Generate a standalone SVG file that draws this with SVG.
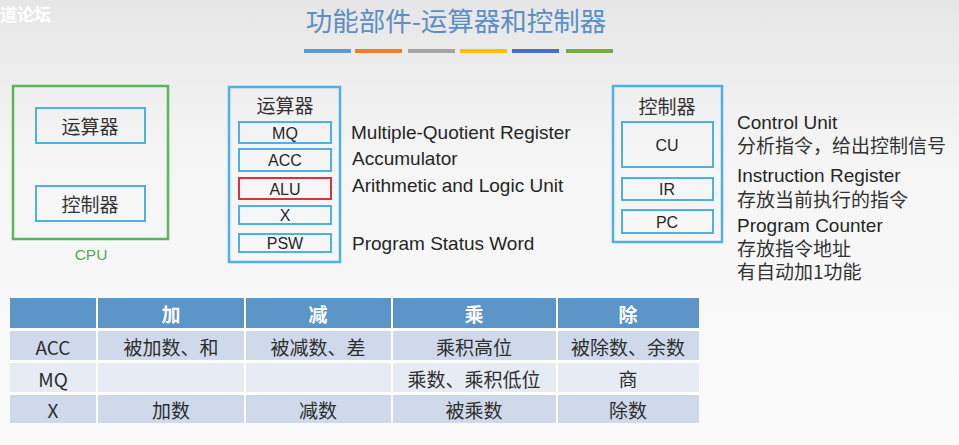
<svg xmlns="http://www.w3.org/2000/svg" width="959" height="445" viewBox="0 0 959 445">
  <defs>
    <linearGradient id="bg" x1="0" y1="0" x2="0" y2="1">
      <stop offset="0" stop-color="#e6e6e6"/>
      <stop offset="0.35" stop-color="#f5f5f5"/>
      <stop offset="1" stop-color="#fbfbfb"/>
    </linearGradient>
    <style>
      .t { font-family: "Liberation Sans", "Noto Sans CJK SC", sans-serif; fill: #262626; }
      .cjk { font-family: "Noto Sans CJK SC", "Liberation Sans", sans-serif; fill: #333333; }
      .mid { text-anchor: middle; dominant-baseline: central; }
      .reg { fill: none; stroke: #4fb0e3; stroke-width: 2; }
      .alu { fill: none; stroke: #d8333c; stroke-width: 2; }
      .outer { fill: none; stroke: #4fb0e3; stroke-width: 2.5; }
      .lbl { font-size: 16px; }
      .desc { font-size: 19px; }
      .hdr { fill: #5b95c8; }
      .rowA { fill: #cfd9ea; }
      .rowB { fill: #e7ebf3; }
      .th { font-family: "Noto Sans CJK SC", sans-serif; fill: #ffffff; font-size: 19px; font-weight: bold; }
      .td { font-family: "Noto Sans CJK SC", "Liberation Sans", sans-serif; fill: #2e2e2e; font-size: 19px; }
    </style>
  </defs>

  <!-- page background -->
  <rect x="0" y="0" width="959" height="445" fill="url(#bg)"/>
  <text x="0" y="21" font-family="Noto Sans CJK SC, sans-serif" font-size="17" font-weight="bold" fill="#ffffff">道论坛</text>

  <!-- title and colour strip -->
  <text x="456" y="31" text-anchor="middle" font-family="Noto Sans CJK SC, sans-serif" font-size="26.5" fill="#5b8fc7">功能部件-运算器和控制器</text>
  <g id="strip">
    <rect x="304" y="49" width="47" height="4" fill="#5b9bd5"/>
    <rect x="355" y="49" width="47" height="4" fill="#ed7d31"/>
    <rect x="408" y="49" width="47" height="4" fill="#a5a5a5"/>
    <rect x="460" y="49" width="47" height="4" fill="#ffc000"/>
    <rect x="512" y="49" width="47" height="4" fill="#4472c4"/>
    <rect x="566" y="49" width="47" height="4" fill="#70ad47"/>
  </g>

  <!-- CPU overview -->
  <g id="cpu">
    <rect x="13" y="86" width="155" height="153" fill="none" stroke="#5cb55c" stroke-width="2.5"/>
    <text x="91" y="254" class="mid" font-family="Liberation Sans, sans-serif" font-size="15.5" fill="#4caf50">CPU</text>
  </g>
  <g id="cpu-alu">
    <rect x="36" y="108" width="109" height="35" class="reg"/>
    <text x="90" y="125" class="cjk mid" font-size="19">运算器</text>
  </g>
  <g id="cpu-cu">
    <rect x="36" y="186" width="109" height="35" class="reg"/>
    <text x="90" y="203" class="cjk mid" font-size="19">控制器</text>
  </g>

  <!-- arithmetic unit -->
  <g id="alu-unit">
    <rect x="229" y="87" width="111" height="175" class="outer"/>
    <text x="285" y="104" class="cjk mid" font-size="19">运算器</text>
  </g>
  <g id="mq">
    <rect x="239" y="122" width="92" height="21" class="reg"/>
    <text x="285" y="133" class="t mid lbl">MQ</text>
    <text x="351" y="139" class="t desc">Multiple-Quotient Register</text>
  </g>
  <g id="acc">
    <rect x="239" y="149" width="92" height="22" class="reg"/>
    <text x="285" y="160" class="t mid lbl">ACC</text>
    <text x="352" y="165" class="t desc">Accumulator</text>
  </g>
  <g id="alu">
    <rect x="239" y="178" width="92" height="21" class="alu"/>
    <text x="285" y="189" class="t mid lbl">ALU</text>
    <text x="352" y="192" class="t desc">Arithmetic and Logic Unit</text>
  </g>
  <g id="x">
    <rect x="239" y="206" width="92" height="18" class="reg"/>
    <text x="285" y="215" class="t mid lbl">X</text>
  </g>
  <g id="psw">
    <rect x="239" y="234" width="92" height="18" class="reg"/>
    <text x="285" y="243" class="t mid lbl">PSW</text>
    <text x="352" y="250" class="t desc">Program Status Word</text>
  </g>

  <!-- control unit -->
  <g id="ctrl-unit">
    <rect x="613" y="86" width="109" height="156" class="outer"/>
    <text x="667" y="105" class="cjk mid" font-size="19">控制器</text>
  </g>
  <g id="cu">
    <rect x="622" y="122" width="91" height="45" class="reg"/>
    <text x="667" y="145" class="t mid lbl">CU</text>
    <text x="737" y="129" class="t desc">Control Unit</text>
    <text x="737" y="153" class="cjk desc">分析指令，给出控制信号</text>
  </g>
  <g id="ir">
    <rect x="622" y="178" width="91" height="22" class="reg"/>
    <text x="667" y="189" class="t mid lbl">IR</text>
    <text x="737" y="182" class="t desc">Instruction Register</text>
    <text x="737" y="207" class="cjk desc">存放当前执行的指令</text>
  </g>
  <g id="pc">
    <rect x="622" y="210" width="91" height="23" class="reg"/>
    <text x="667" y="222" class="t mid lbl">PC</text>
    <text x="737" y="232" class="t desc">Program Counter</text>
    <text x="737" y="256" class="cjk desc">存放指令地址</text>
    <text x="737" y="279" class="cjk desc">有自动加1功能</text>
  </g>

  <!-- register usage table -->
  <g id="table">
    <rect x="10" y="298" width="689" height="125" fill="#ffffff"/>
    <rect x="10" y="298" width="86" height="30" class="hdr"/>
    <rect x="98" y="298" width="146" height="30" class="hdr"/>
    <rect x="246" y="298" width="145" height="30" class="hdr"/>
    <rect x="393" y="298" width="163" height="30" class="hdr"/>
    <rect x="558" y="298" width="141" height="30" class="hdr"/>

    <rect x="10" y="331" width="86" height="29" class="rowA"/>
    <rect x="98" y="331" width="146" height="29" class="rowA"/>
    <rect x="246" y="331" width="145" height="29" class="rowA"/>
    <rect x="393" y="331" width="163" height="29" class="rowA"/>
    <rect x="558" y="331" width="141" height="29" class="rowA"/>

    <rect x="10" y="363" width="86" height="29" class="rowB"/>
    <rect x="98" y="363" width="146" height="29" class="rowB"/>
    <rect x="246" y="363" width="145" height="29" class="rowB"/>
    <rect x="393" y="363" width="163" height="29" class="rowB"/>
    <rect x="558" y="363" width="141" height="29" class="rowB"/>

    <rect x="10" y="395" width="86" height="28" class="rowA"/>
    <rect x="98" y="395" width="146" height="28" class="rowA"/>
    <rect x="246" y="395" width="145" height="28" class="rowA"/>
    <rect x="393" y="395" width="163" height="28" class="rowA"/>
    <rect x="558" y="395" width="141" height="28" class="rowA"/>

    <text x="171" y="313" class="th mid">加</text>
    <text x="318" y="313" class="th mid">减</text>
    <text x="474" y="313" class="th mid">乘</text>
    <text x="628" y="313" class="th mid">除</text>

    <text x="53" y="346" class="td mid" font-family="Liberation Sans, sans-serif" font-size="17">ACC</text>
    <text x="171" y="346" class="td mid">被加数、和</text>
    <text x="318" y="346" class="td mid">被减数、差</text>
    <text x="474" y="346" class="td mid">乘积高位</text>
    <text x="628" y="346" class="td mid">被除数、余数</text>

    <text x="53" y="378" class="td mid" font-family="Liberation Sans, sans-serif" font-size="17">MQ</text>
    <text x="474" y="378" class="td mid">乘数、乘积低位</text>
    <text x="628" y="378" class="td mid">商</text>

    <text x="53" y="409" class="td mid" font-family="Liberation Sans, sans-serif" font-size="17">X</text>
    <text x="171" y="409" class="td mid">加数</text>
    <text x="318" y="409" class="td mid">减数</text>
    <text x="474" y="409" class="td mid">被乘数</text>
    <text x="628" y="409" class="td mid">除数</text>
  </g>
</svg>
